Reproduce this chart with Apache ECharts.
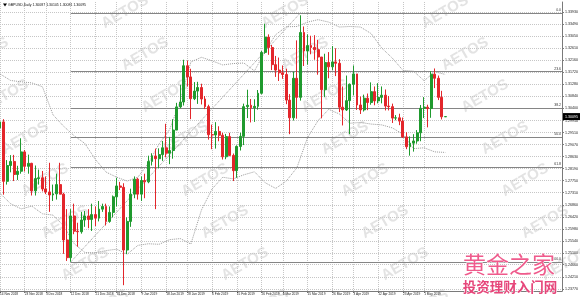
<!DOCTYPE html>
<html><head><meta charset="utf-8">
<script src="https://cdn.jsdelivr.net/npm/echarts@6/dist/echarts.min.js"></script>
<style>html,body{margin:0;padding:0;background:#fff}#c{width:580px;height:297px}</style>
</head><body><div id="c"></div>
<script>
// ---- data ----
const categories = ['14 Nov 2018','15 Nov 2018','16 Nov 2018','19 Nov 2018','20 Nov 2018','21 Nov 2018','22 Nov 2018','23 Nov 2018','26 Nov 2018','27 Nov 2018','28 Nov 2018','29 Nov 2018','30 Nov 2018',
'3 Dec 2018','4 Dec 2018','5 Dec 2018','6 Dec 2018','7 Dec 2018','10 Dec 2018','11 Dec 2018','12 Dec 2018','13 Dec 2018','14 Dec 2018','17 Dec 2018','18 Dec 2018','19 Dec 2018','20 Dec 2018','21 Dec 2018','24 Dec 2018','25 Dec 2018','26 Dec 2018','27 Dec 2018','28 Dec 2018','31 Dec 2018',
'1 Jan 2019','2 Jan 2019','3 Jan 2019','4 Jan 2019','7 Jan 2019','8 Jan 2019','9 Jan 2019','10 Jan 2019','11 Jan 2019','14 Jan 2019','15 Jan 2019','16 Jan 2019','17 Jan 2019','18 Jan 2019','21 Jan 2019','22 Jan 2019','23 Jan 2019','24 Jan 2019','25 Jan 2019','28 Jan 2019','29 Jan 2019','30 Jan 2019','31 Jan 2019',
'1 Feb 2019','4 Feb 2019','5 Feb 2019','6 Feb 2019','7 Feb 2019','8 Feb 2019','11 Feb 2019','12 Feb 2019','13 Feb 2019','14 Feb 2019','15 Feb 2019','18 Feb 2019','19 Feb 2019','20 Feb 2019','21 Feb 2019','22 Feb 2019','25 Feb 2019','26 Feb 2019','27 Feb 2019','28 Feb 2019',
'1 Mar 2019','4 Mar 2019','5 Mar 2019','6 Mar 2019','7 Mar 2019','8 Mar 2019','11 Mar 2019','12 Mar 2019','13 Mar 2019','14 Mar 2019','15 Mar 2019','18 Mar 2019','19 Mar 2019','20 Mar 2019','21 Mar 2019','22 Mar 2019','25 Mar 2019','26 Mar 2019','27 Mar 2019','28 Mar 2019','29 Mar 2019',
'1 Apr 2019','2 Apr 2019','3 Apr 2019','4 Apr 2019','5 Apr 2019','8 Apr 2019','9 Apr 2019','10 Apr 2019','11 Apr 2019','12 Apr 2019','15 Apr 2019','16 Apr 2019','17 Apr 2019','18 Apr 2019','19 Apr 2019','22 Apr 2019','23 Apr 2019','24 Apr 2019','25 Apr 2019','26 Apr 2019','29 Apr 2019','30 Apr 2019',
'1 May 2019','2 May 2019','3 May 2019','6 May 2019','7 May 2019','8 May 2019','9 May 2019'];

const opens = [1.2968,1.2990,1.2772,1.2830,1.2845,1.2797,1.2809,1.2880,1.2827,1.2838,1.2737,1.2782,1.2785,
1.2744,1.2733,1.2722,1.2726,1.2760,1.2725,1.2557,1.2492,1.2645,1.2589,1.2587,1.2630,1.2645,1.2632,1.2650,1.2637,1.2670,1.2680,1.2625,1.2658,1.2715,
1.2755,1.2750,1.2520,1.2625,1.2725,1.2780,1.2725,1.2775,1.2770,1.2845,1.2865,1.2855,1.2870,1.2895,1.2875,1.2885,1.2960,1.3045,1.3063,1.3196,1.3155,1.3075,1.3103,
1.3116,1.3074,1.3046,1.2943,1.2942,1.2955,1.2941,1.2862,1.2936,1.2867,1.2811,1.2900,1.2937,1.3046,1.3051,1.3042,1.3047,1.3095,1.3245,1.3301,
1.3263,1.3200,1.3180,1.3170,1.3164,1.3070,1.3005,1.3150,1.3080,1.3318,1.3250,1.3270,1.3263,1.3255,1.3228,1.3108,1.3208,1.3192,1.3210,1.3205,1.3044,
1.3034,1.3068,1.3128,1.3166,1.3052,1.3034,1.3077,1.3061,1.3101,1.3067,1.3080,1.3088,1.3048,1.3046,1.3004,1.3005,1.2993,1.2935,1.2899,1.2912,1.2920,1.2950,
1.3040,1.3044,1.3039,1.3165,1.3150,1.3080,1.30087];
const highs = [1.3040,1.3000,1.2850,1.2868,1.2869,1.2829,1.2930,1.2887,1.2870,1.2840,1.2830,1.2815,1.2810,
1.2790,1.2840,1.2760,1.2800,1.2840,1.2730,1.2670,1.2670,1.2690,1.2620,1.2660,1.2663,1.2670,1.2690,1.2680,1.2700,1.2690,1.2690,1.2680,1.2720,1.2785,
1.2770,1.2765,1.2640,1.2745,1.2790,1.2785,1.2790,1.2800,1.2866,1.2875,1.2892,1.2893,1.2920,1.2983,1.2935,1.3000,1.3060,1.3125,1.3218,1.3215,1.3185,1.3136,1.3137,
1.3130,1.3085,1.3053,1.2980,1.2989,1.2974,1.2950,1.2946,1.2950,1.2874,1.2904,1.2950,1.3057,1.3108,1.3074,1.3073,1.3107,1.3250,1.3350,1.3311,
1.3272,1.3232,1.3226,1.3197,1.3185,1.3092,1.3174,1.3289,1.3381,1.3340,1.3311,1.3306,1.3308,1.3291,1.3228,1.3240,1.3246,1.3268,1.3260,1.3220,1.3120,
1.3160,1.3131,1.3197,1.3166,1.3083,1.3090,1.3094,1.3135,1.3120,1.3132,1.3120,1.3109,1.3085,1.3057,1.3015,1.3020,1.3006,1.2952,1.2937,1.2945,1.2960,1.3052,
1.3081,1.3053,1.3176,1.3186,1.3160,1.3104,1.30105];
const lows = [1.2928,1.2723,1.2760,1.2805,1.2773,1.2777,1.2800,1.2808,1.2800,1.2720,1.2720,1.2760,1.2735,
1.2725,1.2660,1.2700,1.2705,1.2740,1.2506,1.2480,1.2477,1.2578,1.2532,1.2580,1.2605,1.2600,1.2590,1.2608,1.2625,1.2660,1.2610,1.2620,1.2640,1.2680,
1.2740,1.2391,1.2505,1.2605,1.2710,1.2705,1.2700,1.2710,1.2765,1.2830,1.2670,1.2820,1.2847,1.2860,1.2835,1.2855,1.2960,1.3040,1.3050,1.3120,1.3000,1.3070,1.3056,
1.3054,1.3037,1.2925,1.2890,1.2892,1.2919,1.2852,1.2853,1.2864,1.2773,1.2785,1.2885,1.2905,1.3004,1.2988,1.2990,1.3035,1.3091,1.3240,1.3236,
1.3180,1.3155,1.3140,1.3148,1.3055,1.2945,1.2995,1.3002,1.3068,1.3195,1.3200,1.3238,1.3218,1.3163,1.3003,1.3081,1.3150,1.3180,1.3158,1.3026,1.2977,
1.3030,1.2945,1.3087,1.3034,1.3019,1.3028,1.3033,1.3053,1.3051,1.3058,1.3058,1.3032,1.3032,1.2986,1.2996,1.2978,1.2931,1.2890,1.2866,1.2881,1.2910,1.2919,
1.3004,1.2970,1.3005,1.3114,1.3070,1.2999,1.30081];
const closes = [1.2990,1.2772,1.2830,1.2845,1.2797,1.2809,1.2880,1.2827,1.2838,1.2737,1.2782,1.2785,1.2744,
1.2733,1.2722,1.2726,1.2760,1.2725,1.2557,1.2492,1.2645,1.2589,1.2587,1.2630,1.2645,1.2632,1.2650,1.2637,1.2670,1.2680,1.2625,1.2658,1.2715,1.2755,
1.2750,1.2520,1.2625,1.2725,1.2780,1.2725,1.2775,1.2770,1.2845,1.2865,1.2855,1.2870,1.2895,1.2875,1.2885,1.2960,1.3045,1.3063,1.3196,1.3155,1.3075,1.3103,1.3116,
1.3074,1.3046,1.2943,1.2942,1.2955,1.2941,1.2862,1.2936,1.2867,1.2811,1.2900,1.2937,1.3046,1.3051,1.3042,1.3047,1.3095,1.3245,1.3301,1.3263,
1.3200,1.3180,1.3170,1.3164,1.3070,1.3005,1.3150,1.3080,1.3318,1.3250,1.3270,1.3263,1.3255,1.3228,1.3108,1.3208,1.3192,1.3210,1.3205,1.3044,1.3034,
1.3068,1.3128,1.3166,1.3052,1.3034,1.3077,1.3061,1.3101,1.3067,1.3080,1.3088,1.3048,1.3046,1.3004,1.3005,1.2993,1.2935,1.2899,1.2912,1.2920,1.2950,1.3040,
1.3044,1.3039,1.3165,1.3150,1.3080,1.30087,1.30095];

// Bollinger band (dotted) values, one every 3rd bar starting at the first bar
const bbStep = 3;
const bbUpper = [1.3166,1.3142,1.3137,1.3133,1.3119,1.3016,1.2974,1.2939,1.2911,1.2852,1.2806,1.2787,1.2773,1.2787,1.2839,1.2909,1.2962,1.3068,1.3210,1.3227,1.3214,1.3199,1.3204,1.3206,1.3177,1.3249,1.3310,1.3339,1.3340,1.3356,1.3365,1.3356,1.3338,1.3340,1.3338,1.3314,1.3261,1.3224,1.3179,1.3176,1.3141,1.3174,1.3164];
const bbLower = [1.2728,1.2690,1.2671,1.2681,1.2653,1.2648,1.2609,1.2543,1.2511,1.2510,1.2518,1.2523,1.2505,1.2537,1.2543,1.2541,1.2558,1.2562,1.2542,1.2667,1.2744,1.2787,1.2781,1.2796,1.2807,1.2767,1.2746,1.2773,1.2822,1.2932,1.2995,1.3036,1.3019,1.2985,1.2988,1.2982,1.2979,1.2968,1.2945,1.2892,1.2895,1.2880,1.2878];

// Fibonacci retracement (Dec 12 low -> Mar 13 high)
const fibNames = ['0.0','23.6','38.2','50.0','61.8','100.0'];
const fibPrices = [1.3390,1.3174,1.3041,1.2933,1.2825,1.2476];
const fibStart = '12 Dec 2018', fibEnd = '13 Mar 2019';

const xTickLabels = ['14 Nov 2018','23 Nov 2018','3 Dec 2018','12 Dec 2018','21 Dec 2018','31 Dec 2018','9 Jan 2019','18 Jan 2019','28 Jan 2019','6 Feb 2019','15 Feb 2019','26 Feb 2019','6 Mar 2019','15 Mar 2019','26 Mar 2019','3 Apr 2019','12 Apr 2019','23 Apr 2019','1 May 2019'];
const yTickLabels = ['1.23770','1.24210','1.24660','1.25100','1.25540','1.25980','1.26420','1.26860','1.27310','1.27750','1.28190','1.28630','1.29070','1.29510','1.29950','1.30400','1.30840','1.31280','1.31720','1.32160','1.32610','1.33050','1.33490','1.33930'];
const titleText = 'GBPUSD,Daily 1.30087 1.30105 1.30081 1.30095';

// ---- chart ----
const chart = echarts.init(document.getElementById('c'), null, {renderer:'canvas', width:580, height:297});
const emptySlots = 33;
const axisCats = categories.concat(Array.from({length: emptySlots}, (_, k) => '~' + k));
const lastCat = axisCats[axisCats.length - 1];
const showTick = (i, v) => xTickLabels.indexOf(v) >= 0;
const yVals = yTickLabels.map(Number);
const candleData = categories.map((d, i) => [opens[i], closes[i], lows[i], highs[i]]);
const bbU = bbUpper.map((v, k) => [categories[k * bbStep], v]);
const bbL = bbLower.map((v, k) => [categories[k * bbStep], v]);

const fibLines = fibPrices.map((p, k) => [
  {coord: [fibStart, p], name: fibNames[k]},
  {coord: [lastCat, p]}
]);
fibLines.push([
  {coord: [fibStart, fibPrices[5]], name: '', lineStyle: {type: 'dotted', color: '#9a9a9a'}, label: {show: false}},
  {coord: [fibEnd, fibPrices[0]]}
]);

// watermarks
const marks = [];
for (let r = 0; r < 8; r++) {
  const y = 12 + 42 * r;
  const off = ((r - 2) * 20 + 5);
  for (let k = -1; k < 5; k++) {
    const x = off + k * 160;
    if (x < -60 || x > 600) continue;
    marks.push({type: 'text', x: x, y: y, rotation: Math.PI / 6, silent: true, z: 0,
      style: {text: 'AETOS', fontSize: 15, fontWeight: 'bold', fontFamily: 'Liberation Sans', fill: '#e3e3e3', textAlign: 'center', textVerticalAlign: 'middle'}});
  }
}

const baseGraphic = marks.concat([
  {type: 'polygon', shape: {points: [[3, 3.5], [7, 3.5], [5, 6.5]]}, style: {fill: '#000'}, z: 10, silent: true},
  {type: 'text', x: 8, y: 5, z: 10, silent: true, style: {text: titleText, fontSize: 3.5, fill: '#111', fontFamily: 'Liberation Sans', textVerticalAlign: 'middle'}},
  {type: 'text', x: 509, y: 264, z: 20, silent: true, style: {text: '黄金之家', fontSize: 23, fontFamily: 'Noto Sans CJK SC', fill: '#ef5b8c', stroke: '#ffffff', lineWidth: 1, textAlign: 'center', textVerticalAlign: 'middle'}},
  {type: 'text', x: 510, y: 287, z: 20, silent: true, style: {text: '投资理财入门网', fontSize: 13.5, fontWeight: 'bold', fontFamily: 'Noto Sans CJK SC', fill: '#e6467a', stroke: '#ffffff', lineWidth: 1, textAlign: 'center', textVerticalAlign: 'middle'}}
]);

const option = {
  animation: false,
  backgroundColor: '#ffffff',
  grid: {left: 0, right: 18, top: 2, bottom: 6, containLabel: false, outerBoundsMode: 'none'},
  xAxis: {
    type: 'category', data: axisCats, boundaryGap: false,
    axisLine: {show: true, lineStyle: {color: '#7a7a7a', width: 1}},
    axisTick: {show: true, interval: showTick, length: 2, lineStyle: {color: '#7a7a7a'}},
    axisLabel: {interval: showTick, align: 'left', fontSize: 3.2, margin: 2, color: '#222', fontFamily: 'Liberation Sans'},
    splitLine: {show: true, interval: showTick, lineStyle: {color: '#c6c6c6', type: 'dotted', width: 1}}
  },
  yAxis: {
    type: 'value', position: 'right', min: 1.23697, max: 1.34298, scale: true,
    axisLine: {show: true, lineStyle: {color: '#7a7a7a', width: 1}},
    axisTick: {show: true, customValues: yVals, length: 2, lineStyle: {color: '#7a7a7a'}},
    axisLabel: {customValues: yVals, formatter: v => v.toFixed(5), fontSize: 3.6, margin: 3, color: '#222', fontFamily: 'Liberation Sans'},
    splitLine: {show: true, lineStyle: {color: '#c6c6c6', type: 'dotted', width: 1}}
  },
  graphic: baseGraphic,
  series: [
    {
      type: 'candlestick', data: candleData, barWidth: 2.4, z: 5,
      itemStyle: {color: '#1f9a2e', color0: '#e3262b', borderColor: '#1f9a2e', borderColor0: '#e3262b', borderWidth: 1},
      markLine: {
        silent: true, symbol: ['none', 'none'], animation: false, z: 3,
        lineStyle: {color: '#858585', type: 'solid', width: 1},
        label: {show: true, position: 'insideEndTop', formatter: p => p.name, fontSize: 3.5, color: '#333', distance: 1, fontFamily: 'Liberation Sans'},
        emphasis: {disabled: true},
        data: fibLines
      }
    },
    {type: 'line', data: bbU, showSymbol: false, symbol: 'none', z: 4, silent: true, lineStyle: {color: '#9a9a9a', type: 'dotted', width: 1}},
    {type: 'line', data: bbL, showSymbol: false, symbol: 'none', z: 4, silent: true, lineStyle: {color: '#9a9a9a', type: 'dotted', width: 1}}
  ]
};
chart.setOption(option);

// current price box on the price scale
const lastClose = closes[closes.length - 1];
const py = chart.convertToPixel({yAxisIndex: 0}, lastClose);
chart.setOption({graphic: baseGraphic.concat([
  {type: 'rect', shape: {x: 563, y: py - 3.5, width: 17, height: 7}, style: {fill: '#000'}, z: 30, silent: true},
  {type: 'text', x: 571.5, y: py, z: 31, silent: true, style: {text: lastClose.toFixed(5), fontSize: 3.6, fill: '#fff', fontFamily: 'Liberation Sans', textAlign: 'center', textVerticalAlign: 'middle'}}
])});
</script>
</body></html>
